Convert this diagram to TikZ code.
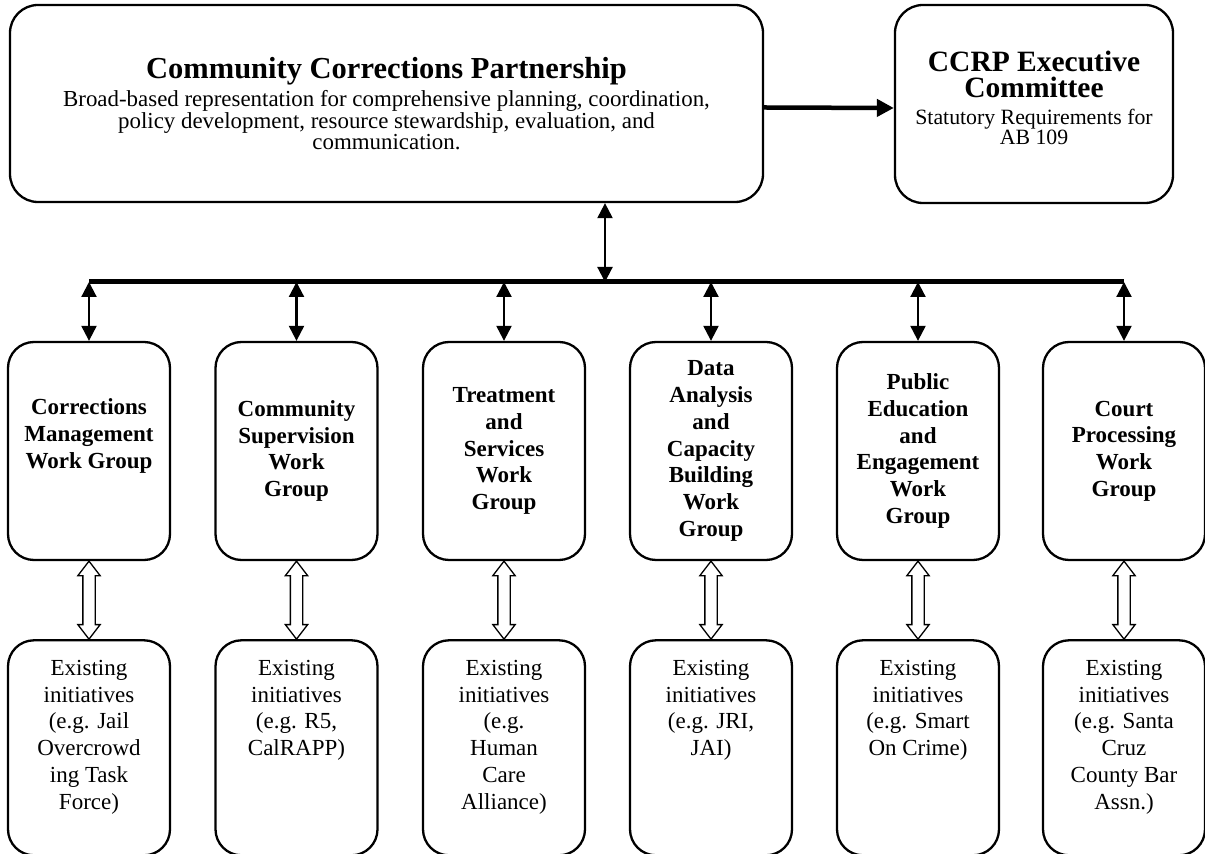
\documentclass[tikz,border=0pt]{standalone}
\usepackage{fontspec}
\setmainfont{Liberation Serif}
\usetikzlibrary{arrows.meta,shapes.arrows,positioning}
\newcommand{\inittext}[1]{\parbox[t][175pt][t]{150pt}{\centering #1}}
\tikzset{
  box/.style={draw, line width=2.3pt, rounded corners=28pt, align=center},
  group/.style={box, minimum width=162pt, minimum height=218pt, rounded corners=26pt,
    font=\bfseries\fontsize{23}{26.7}\selectfont},
  init/.style={draw, line width=2.3pt, rounded corners=26pt, inner xsep=6pt, inner ysep=20pt,
    font=\fontsize{23}{26.7}\selectfont},
  link/.style={<->, >={Triangle[length=15pt,width=15pt]}, line width=2.2pt},
  feed/.style={-{Triangle[length=17pt,width=17pt]}, line width=4.5pt},
  bus/.style={line width=5pt},
  hollow/.style={draw, line width=1.3pt, shape=double arrow, shape border rotate=90,
    minimum height=78pt, minimum width=21pt, double arrow head extend=5pt,
    double arrow tip angle=75, inner xsep=5.5pt, inner ysep=0pt}
}
\begin{document}
\begin{tikzpicture}[x=1pt,y=1pt]
\useasboundingbox (0,0) rectangle (1205,854);
\node[box, minimum width=753pt, minimum height=197pt, font=\fontsize{22.9}{21.5}\selectfont] (ccp) at (386.5,750.5)
  {{\bfseries\fontsize{30.5}{30}\selectfont Community Corrections Partnership}\\[5pt]
   Broad-based representation for comprehensive planning, coordination,\\
   policy development, resource stewardship, evaluation, and\\
   communication.};
\node[box, minimum width=278pt, minimum height=198pt, font=\fontsize{21.8}{20.5}\selectfont] (exec) at (1034,750)
  {{\bfseries\fontsize{29.5}{26}\selectfont CCRP Executive}\\[5pt]
   {\bfseries\fontsize{29.5}{26}\selectfont Committee}\\[6pt]
   Statutory Requirements for\\ AB 109\\[-8pt] \mbox{}};
\draw[feed] ([yshift=-4pt]ccp.east) -- ([yshift=-4pt]exec.west);

\node[group] (g1) at (89,403) {Corrections\\Management\\Work Group\\ \strut};
\node[group] (g2) at (296.5,403) {Community\\Supervision\\Work\\Group};
\node[group] (g3) at (504,403) {Treatment\\and\\Services\\Work\\Group};
\node[group] (g4) at (711,403) {Data\\Analysis\\and\\Capacity\\Building\\Work\\Group};
\node[group] (g5) at (918,403) {Public\\Education\\and\\Engagement\\Work\\Group};
\node[group] (g6) at (1124,403) {Court\\Processing\\Work\\Group};

\node[init, below=78pt of g1] (e1) {\inittext{Existing\\initiatives\\(e.g. Jail\\Overcrowd\\ing Task\\Force)}};
\node[init, below=78pt of g2] (e2) {\inittext{Existing\\initiatives\\(e.g. R5,\\CalRAPP)}};
\node[init, below=78pt of g3] (e3) {\inittext{Existing\\initiatives\\(e.g.\\Human\\Care\\Alliance)}};
\node[init, below=78pt of g4] (e4) {\inittext{Existing\\initiatives\\(e.g. JRI,\\JAI)}};
\node[init, below=78pt of g5] (e5) {\inittext{Existing\\initiatives\\(e.g. Smart\\On Crime)}};
\node[init, below=78pt of g6] (e6) {\inittext{Existing\\initiatives\\(e.g. Santa\\Cruz\\County Bar\\Assn.)}};

\coordinate (hub) at (605,572);
\draw[link] (ccp.south -| hub) -- (hub);
\draw[bus] (g1.north |- hub) -- (g6.north |- hub);
\foreach \i in {1,...,6} {
  \draw[link] (g\i.north |- hub) -- (g\i.north);
  \path (g\i.south) -- (e\i.north) node[midway, hollow] {};
}
\end{tikzpicture}
\end{document}
